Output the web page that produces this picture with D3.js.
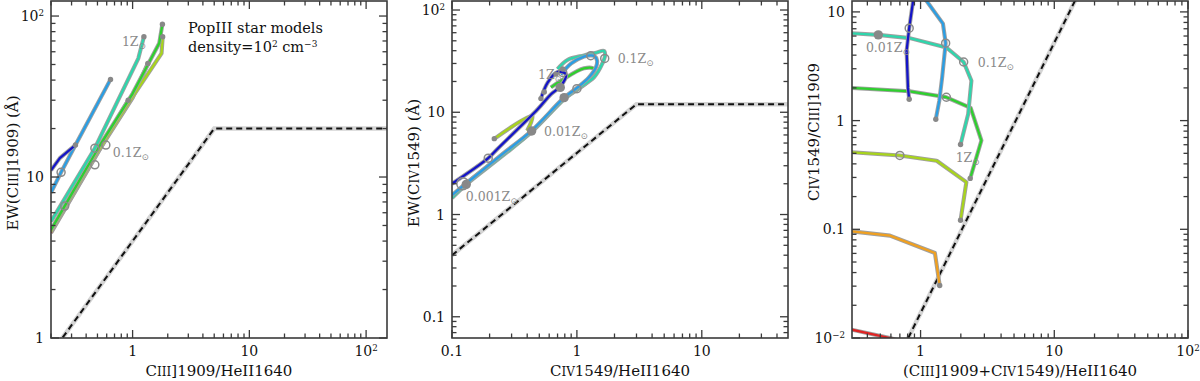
<!DOCTYPE html>
<html><head><meta charset="utf-8">
<script src="https://cdn.jsdelivr.net/npm/d3@7"></script>
<style>
body{margin:0;background:#fff}
svg{display:block}
text{font-family:"DejaVu Serif",serif;fill:#111}
</style>
</head><body>
<svg id="c" width="1200" height="381"></svg>
<script>
// ---------------- DATA ----------------
const colorNames = ["red","orange","yellowgreen","green","teal","skyblue","darkblue"];
const colorValues = ["#e02424","#f0a020","#a8d41c","#2ed02e","#2ed6ac","#2a9ee4","#1414c8"];

// Panel 1: CIII]/HeII vs EW(CIII])
const p1Red = [[0.2,4.5],[0.5,14.0],[0.916,30]];
const p1Orange = [[0.2,4.55],[0.5,14.1],[1.0,31],[1.35,50.8]];
const p1YellowGreen = [[0.2,4.6],[0.5,14.3],[1.0,31.5],[1.77,58.6],[1.81,74.3]];
const p1Green = [[0.2,4.7],[0.5,14.9],[1.0,33],[1.69,67.7],[1.8,89]];
const p1Teal = [[0.2,5.3],[0.475,15.1],[1.12,54.6],[1.25,74.3]];
const p1SkyBlue = [[0.2,8.0],[0.244,10.7],[0.324,15.8],[0.647,40.4]];
const p1DarkBlue = [[0.2,11],[0.238,13.1],[0.324,15.8]];
const p1Open = [[0.244,10.7],[0.475,15.1],[0.59,15.8],[0.475,11.9],[0.262,6.6]];
const p1Big = [];
const p1Dots = [[0.324,15.8],[0.647,40.4],[1.25,74.3],[1.8,89],[1.81,74.3],[1.35,50.8],[0.916,30]];
const p1Dashed = [[0.2,0.8],[5,20],[300,20]];
const p1ZLabels = [["1Z",0.81,65],["0.1Z",0.677,13.3]];
const p1XTicks = [1,10,100];
const p1YTicks = [1,10,100];

// Panel 2: CIV/HeII vs EW(CIV)
const p2Red = [];
const p2Orange = [];
const p2YellowGreen = [[0.218,5.5],[0.44,9.2],[0.40,6.6]];
const p2Green = [[0.1,1.5],[0.129,2.0],[0.434,6.5],[0.79,13.6],[1.0,16.5],[1.25,20.5],[1.37,26.4],[1.14,26.9],[0.745,20.3],[0.62,17.5]];
const p2Teal = [[0.1,1.45],[0.129,1.95],[0.25,3.7],[0.434,6.4],[0.79,13.4],[1.0,16.8],[1.37,22],[1.6,30],[1.68,36],[1.65,39.8],[1.4,38],[1.14,36],[0.84,32.5],[0.70,26.5]];
const p2SkyBlue = [[0.1,1.55],[0.129,2.0],[0.25,3.85],[0.434,6.6],[0.79,13.9],[1.0,17.3],[1.25,22],[1.42,27.5],[1.45,32],[1.38,35.5],[1.29,36],[1.14,35],[0.9,30],[0.745,23.4]];
const p2DarkBlue = [[0.1,2.0],[0.195,3.56],[0.232,4.4],[0.485,10.7],[0.62,15],[0.745,18.1],[0.817,23.6],[0.70,24.8],[0.583,19.5],[0.515,13.6]];
const p2Open = [[0.122,2.0],[0.195,3.56],[1.0,17],[1.29,35.7],[1.67,33.6],[0.77,24.5]];
const p2Big = [[0.13,1.97],[0.434,6.56],[0.79,13.9],[0.736,17.5]];
const p2Dots = [[0.218,5.52],[0.515,13.6],[0.548,15.8],[0.68,23.6],[0.77,26.5]];
const p2Dashed = [[0.1,0.4],[3,12],[80,12]];
const p2ZLabels = [["1Z",0.488,21],["0.1Z",2.12,30],["0.01Z",0.545,5.8],["0.001Z",0.129,1.37]];
const p2XTicks = [0.1,1,10];
const p2YTicks = [0.1,1,10,100];

// Panel 3: (CIII]+CIV)/HeII vs CIV/CIII]
const p3Red = [[0.28,0.0122],[0.59,0.01],[0.7,0.0094]];
const p3Orange = [[0.28,0.097],[0.59,0.0874],[1.28,0.0605],[1.39,0.0304]];
const p3YellowGreen = [[0.28,0.515],[0.70,0.478],[1.32,0.427],[2.2,0.272],[1.99,0.121]];
const p3Green = [[0.28,2.01],[0.83,1.86],[1.56,1.64],[2.37,1.31],[2.85,0.656],[2.35,0.294]];
const p3Teal = [[0.28,6.4],[0.483,6.15],[0.83,5.74],[1.56,4.7],[2.1,3.46],[2.4,2.33],[2.27,1.15],[1.99,0.603]];
const p3SkyBlue = [[1.0,14.5],[1.11,12.6],[1.47,7.8],[1.54,5.16],[1.45,2.5],[1.38,1.52],[1.30,1.03]];
const p3DarkBlue = [[0.89,14],[0.822,7.08],[0.786,4.38],[0.805,2.0],[0.822,1.57]];
const p3Open = [[0.822,7.08],[1.54,5.16],[2.1,3.46],[1.56,1.64],[0.70,0.478]];
const p3Big = [[0.483,6.15]];
const p3Dots = [[0.822,1.57],[1.30,1.03],[1.99,0.603],[2.35,0.294],[1.99,0.121],[1.39,0.0304]];
const p3Dashed = [[0.75,0.0083],[15.5,15.5]];
const p3ZLabels = [["0.01Z",0.39,4.3],["0.1Z",2.68,3.13],["1Z",1.83,0.42]];
const p3XTicks = [1,10,100];
const p3YTicks = [0.01,0.1,1,10];

// ---------------- DRAWING ----------------
const svg = d3.select("#c");
const panels = [
  {box:[51,387,1,338], xd:[0.2,151], yd:[1,124], series:[p1Red,p1Orange,p1YellowGreen,p1Green,p1Teal,p1SkyBlue,p1DarkBlue],
   open:p1Open, big:p1Big, dots:p1Dots, dashed:p1Dashed, z:p1ZLabels, xt:p1XTicks, yt:p1YTicks, curve:d3.curveLinear,
   xlab:[["C"],["III","s"],["]1909/HeII1640"]], ylab:[["EW(C"],["III","s"],["]1909)  (Å)"]]},
  {box:[452,788,1,338], xd:[0.1,49], yd:[0.062,122.5], series:[p2Red,p2Orange,p2YellowGreen,p2Green,p2Teal,p2SkyBlue,p2DarkBlue],
   open:p2Open, big:p2Big, dots:p2Dots, dashed:p2Dashed, z:p2ZLabels, xt:p2XTicks, yt:p2YTicks, curve:d3.curveCatmullRom,
   xlab:[["C"],["IV","s"],["1549/HeII1640"]], ylab:[["EW(C"],["IV","s"],["1549)  (Å)"]]},
  {box:[852,1188,1,338], xd:[0.307,100], yd:[0.01,12.6], series:[p3Red,p3Orange,p3YellowGreen,p3Green,p3Teal,p3SkyBlue,p3DarkBlue],
   open:p3Open, big:p3Big, dots:p3Dots, dashed:p3Dashed, z:p3ZLabels, xt:p3XTicks, yt:p3YTicks, curve:d3.curveLinear,
   xlab:[["(C"],["III","s"],["]1909+C"],["IV","s"],["1549)/HeII1640"]], ylab:[["C"],["IV","s"],["1549/C"],["III","s"],["]1909"]]}
];

function rich(sel, segs){
  segs.forEach(([s,k])=>{
    const ts = sel.append("tspan").text(s);
    if(k==="s") ts.attr("font-size","80%");
    if(k==="sup") ts.attr("font-size","62%").attr("baseline-shift","55%");
    if(k==="sub") ts.attr("font-size","62%").attr("baseline-shift","-25%");
  });
}
function tickSegs(v){
  if(v===100) return [["10"],["2","sup"]];
  if(v===0.01) return [["10"],["−2","sup"]];
  return [[String(v)]];
}

panels.forEach((p,i)=>{
  const [x0,x1,y0,y1] = p.box;
  const x = d3.scaleLog().domain(p.xd).range([x0,x1]);
  const y = d3.scaleLog().domain(p.yd).range([y1,y0]);
  const g = svg.append("g");
  const cid = "clip"+i;
  svg.append("defs").append("clipPath").attr("id",cid).append("rect")
    .attr("x",x0).attr("y",y0).attr("width",x1-x0).attr("height",y1-y0);
  const pg = g.append("g").attr("clip-path",`url(#${cid})`);
  const line = d3.line().x(d=>x(d[0])).y(d=>y(d[1])).curve(p.curve);
  const lineL = d3.line().x(d=>x(d[0])).y(d=>y(d[1]));

  // dashed limit line
  pg.append("path").attr("d",lineL(p.dashed)).attr("fill","none").attr("stroke","#d4d4d4").attr("stroke-width",4.5);
  pg.append("path").attr("d",lineL(p.dashed)).attr("fill","none").attr("stroke","#111").attr("stroke-width",2).attr("stroke-dasharray","6,4");

  // model tracks
  p.series.forEach((s,j)=>{
    if(!s.length) return;
    pg.append("path").attr("d",line(s)).attr("fill","none").attr("stroke","#a0a0a0").attr("stroke-width",4.1).attr("stroke-linejoin","round");
    pg.append("path").attr("d",line(s)).attr("fill","none").attr("stroke",colorValues[j]).attr("stroke-width",2.3).attr("stroke-linejoin","round");
  });
  // markers
  pg.selectAll(null).data(p.dots).join("circle").attr("cx",d=>x(d[0])).attr("cy",d=>y(d[1])).attr("r",2.7).attr("fill","#888");
  pg.selectAll(null).data(p.big).join("circle").attr("cx",d=>x(d[0])).attr("cy",d=>y(d[1])).attr("r",4.7).attr("fill","#888");
  pg.selectAll(null).data(p.open).join("circle").attr("cx",d=>x(d[0])).attr("cy",d=>y(d[1])).attr("r",(d,k)=> (i===1&&k===0)?6:4)
    .attr("fill","none").attr("stroke","#8a8a8a").attr("stroke-width",1.5);

  // Z labels
  p.z.forEach(([t,vx,vy])=>{
    const tx = g.append("text").attr("x",x(vx)).attr("y",y(vy)).attr("font-size",12.5).style("fill","#8a8a8a");
    tx.append("tspan").text(t).style("fill","#8a8a8a");
    tx.append("tspan").text("⊙").attr("font-size","70%").attr("baseline-shift","-30%").style("fill","#8a8a8a");
  });

  // frame
  g.append("rect").attr("x",x0).attr("y",y0).attr("width",x1-x0).attr("height",y1-y0)
    .attr("fill","none").attr("stroke","#3a3a3a").attr("stroke-width",1.6);

  // ticks (log, inner, all sides)
  const tk = g.append("g").attr("stroke","#3a3a3a").attr("stroke-width",1.3);
  function logTicks(dom){
    const out=[]; const lo=Math.floor(Math.log10(dom[0])), hi=Math.ceil(Math.log10(dom[1]));
    for(let e=lo;e<=hi;e++) for(let m=1;m<=9;m++){
      const v=m*Math.pow(10,e); if(v>=dom[0]*0.999 && v<=dom[1]*1.001) out.push([v,m===1]);
    }
    return out;
  }
  logTicks(p.xd).forEach(([v,maj])=>{
    const L = maj?8:4.5, px=x(v);
    tk.append("line").attr("x1",px).attr("x2",px).attr("y1",y1).attr("y2",y1-L);
    tk.append("line").attr("x1",px).attr("x2",px).attr("y1",y0).attr("y2",y0+L);
  });
  logTicks(p.yd).forEach(([v,maj])=>{
    const L = maj?8:4.5, py=y(v);
    tk.append("line").attr("y1",py).attr("y2",py).attr("x1",x0).attr("x2",x0+L);
    tk.append("line").attr("y1",py).attr("y2",py).attr("x1",x1).attr("x2",x1-L);
  });
  // tick labels
  p.xt.forEach(v=>{
    const t=g.append("text").attr("x",x(v)).attr("y",y1+18).attr("text-anchor","middle").attr("font-size",14);
    rich(t,tickSegs(v));
  });
  p.yt.forEach(v=>{
    const t=g.append("text").attr("x",x0-7).attr("y",y(v)+5).attr("text-anchor","end").attr("font-size",14);
    rich(t,tickSegs(v));
  });
  // axis titles
  const xt=g.append("text").attr("x",(x0+x1)/2).attr("y",376).attr("text-anchor","middle").attr("font-size",15);
  rich(xt,p.xlab);
  const yc = i===2?132:163;
  const yt=g.append("text").attr("transform",`translate(${x0-33},${yc}) rotate(-90)`).attr("text-anchor","middle").attr("font-size",15);
  rich(yt,p.ylab);
});

// annotation in panel 1
const ann1 = svg.append("text").attr("x",188).attr("y",33).attr("font-size",14.5);
rich(ann1,[["PopIII star models"]]);
const ann2 = svg.append("text").attr("x",188).attr("y",52).attr("font-size",14.5);
rich(ann2,[["density=10"],["2","sup"],[" cm"],["−3","sup"]]);
</script>
</body></html>
